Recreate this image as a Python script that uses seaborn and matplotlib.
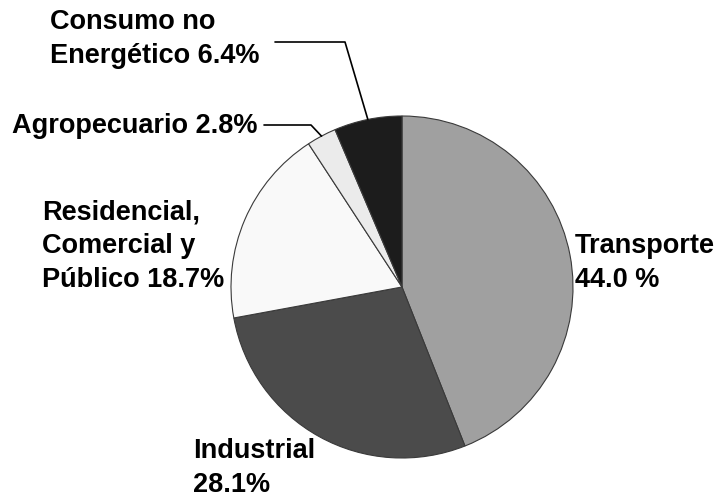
import matplotlib
matplotlib.use("Agg")
import matplotlib.pyplot as plt
import seaborn as sns
import numpy as np

# Data
categories = ["Transporte", "Industrial", "Residencial, Comercial y Público",
              "Agropecuario", "Consumo no Energético"]
shares = [44.0, 28.1, 18.7, 2.8, 6.4]
labels = ["Transporte\n44.0 %", "Industrial\n28.1%",
          "Residencial,\nComercial y\nPúblico 18.7%",
          "Agropecuario 2.8%", "Consumo no\nEnergético 6.4%"]
colors = ["#a0a0a0", "#4b4b4b", "#f9f9f9", "#ebebeb", "#1c1c1c"]

sns.set_theme(style="white")
plt.rcParams["font.family"] = ["Liberation Sans", "DejaVu Sans"]

W, H = 723, 498
fig = plt.figure(figsize=(W / 100, H / 100), dpi=100)
ax = fig.add_axes([0, 0, 1, 1])

cx, cy, r = 402, H - 287, 171
wedges, _ = ax.pie(shares, colors=colors, startangle=90, counterclock=False,
                   center=(cx, cy), radius=r, frame=True,
                   wedgeprops=dict(edgecolor="#3a3a3a", linewidth=0.8))
ax.set_xlim(0, W)
ax.set_ylim(0, H)
ax.set_aspect("equal")
ax.axis("off")

fs = 19.5
ls = 1.40
txt = dict(fontsize=fs, fontweight="bold", color="black", ha="left",
           va="baseline", linespacing=ls)

# label positions (pixel coords, baseline of last line)
pos = [(575, 287), (193, 492), (42, 287), (12, 133), (50, 63)]
for lab, (x, y) in zip(labels, pos):
    ax.text(x, H - y, lab, **txt)

def mid_point(w):
    ang = np.deg2rad((w.theta1 + w.theta2) / 2)
    return w.center[0] + w.r * np.cos(ang), w.center[1] + w.r * np.sin(ang)

# leader lines for small slices
ex, ey = mid_point(wedges[4])
ax.plot([275, 345, ex], [H - 42, H - 42, ey], color="black", lw=1.2)
ex, ey = mid_point(wedges[3])
ax.plot([264, 311, ex], [H - 125, H - 125, ey], color="black", lw=1.2)

fig.savefig("out.png", dpi=100, facecolor="white")
